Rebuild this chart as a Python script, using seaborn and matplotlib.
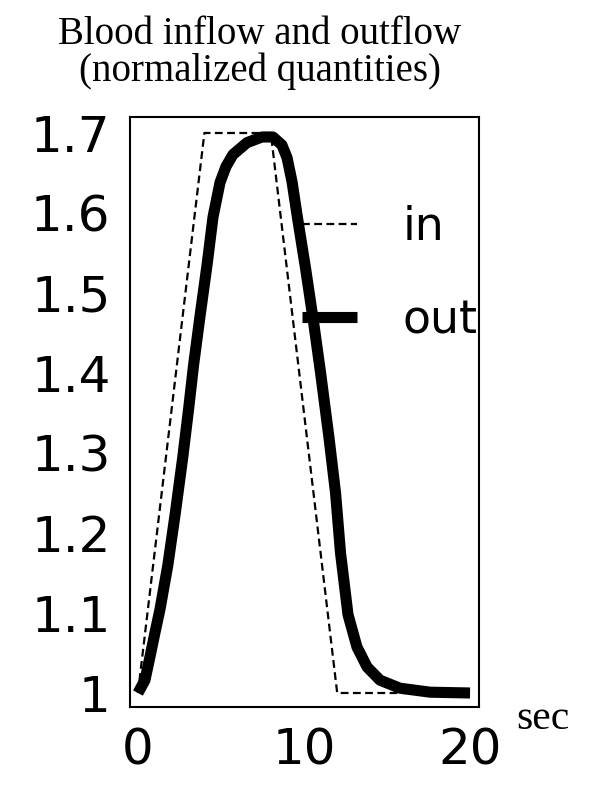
import matplotlib
matplotlib.use("Agg")
import matplotlib.pyplot as plt
import seaborn as sns
import pandas as pd

# Data
time_in = [0, 4, 8, 12, 20]
flow_in = [1.0, 1.7, 1.7, 1.0, 1.0]

time_out = [0, 0.42, 0.72, 1.02, 1.33, 1.8, 2.25, 2.7, 3.05, 3.35, 3.73, 4.16,
            4.52, 4.94, 5.3, 5.72, 6.57, 7.47, 8.13, 8.67, 8.98, 9.28, 9.6,
            10.1, 10.6, 11.0, 11.5, 11.9, 12.2, 12.65, 13.19, 13.8, 14.58,
            15.78, 17.6, 20.0]
flow_out = [1.0, 1.016, 1.045, 1.075, 1.105, 1.16, 1.225, 1.295, 1.355, 1.41,
            1.47, 1.535, 1.595, 1.638, 1.658, 1.673, 1.688, 1.695, 1.695, 1.685,
            1.669, 1.639, 1.595, 1.53, 1.46, 1.40, 1.32, 1.25, 1.175, 1.098,
            1.0575, 1.0325, 1.016, 1.006, 1.001, 1.0]

xticks = [0, 10, 20]
yticks = [1, 1.1, 1.2, 1.3, 1.4, 1.5, 1.6, 1.7]
ytick_labels = ["1", "1.1", "1.2", "1.3", "1.4", "1.5", "1.6", "1.7"]

sns.set_style("white")
plt.rcParams['font.family'] = ['DejaVu Sans']
plt.rcParams['text.color'] = 'black'

fig = plt.figure(figsize=(6, 8.09), dpi=100)
ax = fig.add_axes([130/600, 1-707/809, 349/600, 590/809])

df_in = pd.DataFrame({"t": time_in, "v": flow_in})
df_out = pd.DataFrame({"t": time_out, "v": flow_out})

sns.lineplot(data=df_in, x="t", y="v", ax=ax, color="black", lw=1.6,
             linestyle=(0, (3.5, 2)), label="in", sort=False)
sns.lineplot(data=df_out, x="t", y="v", ax=ax, color="black", lw=8,
             label="out", sort=False, solid_capstyle="butt",
             solid_joinstyle="round")

ax.set_xlim(-0.48, 20.54)
ax.set_ylim(0.9825, 1.72)
ax.set_xticks(xticks)
ax.set_xticklabels([str(x) for x in xticks])
ax.set_yticks(yticks)
ax.set_yticklabels(ytick_labels)
ax.set_xlabel("")
ax.set_ylabel("")
ax.tick_params(axis="both", labelsize=36, length=0, colors="black")
ax.tick_params(axis="x", pad=14)
ax.tick_params(axis="y", pad=14)
for s in ax.spines.values():
    s.set_visible(True)
    s.set_color("black")
    s.set_linewidth(1.5)

leg = ax.legend(loc="upper left", bbox_to_anchor=(172/349, 1-88/590),
                frameon=False, fontsize=33, handlelength=1.2,
                handletextpad=1.0, labelspacing=1.05, borderpad=0,
                borderaxespad=0)
for t in leg.get_texts():
    t.set_color("black")

fig.text(260/600, 1-53/809, "Blood inflow and outflow\n(normalized quantities)",
         ha="center", va="center", fontsize=28, family="Liberation Serif",
         linespacing=1.0, color="black")
fig.text(516/600, 1-719/809, "sec", ha="left", va="center", fontsize=30,
         family="Liberation Serif", color="black")

fig.savefig("out.png", dpi=100)
